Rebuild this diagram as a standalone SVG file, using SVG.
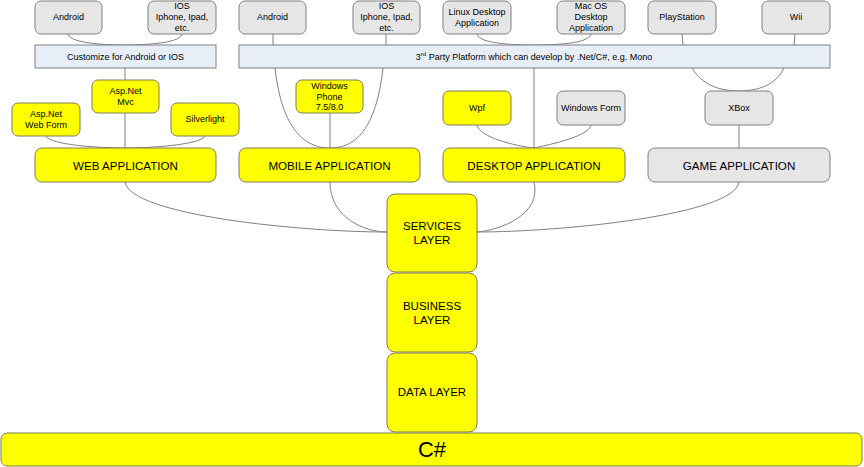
<svg xmlns="http://www.w3.org/2000/svg" width="864" height="467" viewBox="0 0 864 467">
<style>
text{font-family:"Liberation Sans",Arial,sans-serif;fill:#000;text-anchor:middle;dominant-baseline:central}
.s{font-size:9px}
.a{font-size:11.6px}
.l{font-size:11.5px}
.y{fill:#FFFF00;stroke:#7f7f5a;stroke-width:1}
.g{fill:#E6E6E6;stroke:#808080;stroke-width:1}
.b{fill:#E8EEF8;stroke:#808080;stroke-width:1}
.c{fill:none;stroke:#808080;stroke-width:1}
</style>
<rect width="864" height="467" fill="#fff"/>
<g id="connectors">
<path class="c" d="M68,34 C70,44 110,45 125,45"/>
<path class="c" d="M182,34 C180,44 140,45 125,45"/>
<path class="c" d="M125,68 V80"/>
<path class="c" d="M125,113 V148"/>
<path class="c" d="M46,136 C50,145 100,148 125,148"/>
<path class="c" d="M205,136 C200,145 150,148 125,148"/>
<path class="c" d="M273,34 V45"/>
<path class="c" d="M386,34 V45"/>
<path class="c" d="M275,68 C282,130 305,148 330,148"/>
<path class="c" d="M383,68 C376,130 355,148 330,148"/>
<path class="c" d="M330,113 V148"/>
<path class="c" d="M477,34 C479,44 515,45 534,45"/>
<path class="c" d="M591,34 C589,44 553,45 534,45"/>
<path class="c" d="M534,68 V148"/>
<path class="c" d="M477,125 C479,137 515,146 534,148"/>
<path class="c" d="M591,125 C589,136 553,144 534,148"/>
<path class="c" d="M682,34 L683,45"/>
<path class="c" d="M795,34 L794,45"/>
<path class="c" d="M692,68 C702,85 720,91 739,91"/>
<path class="c" d="M784,68 C776,85 758,91 739,91"/>
<path class="c" d="M739,125 V148"/>
<path class="c" d="M125,182 C130,215 300,232 387,232"/>
<path class="c" d="M330,182 C330,218 365,232 387,232"/>
<path class="c" d="M534,182 C542,215 500,230 477,232"/>
<path class="c" d="M739,182 C735,215 560,232 477,232"/>
</g>
<g id="android1"><rect class="g" x="35" y="1" width="67" height="33" rx="6"/><text class="s" x="68.5" y="17">Android</text></g>
<g id="ios1"><rect class="g" x="148" y="1" width="68" height="33" rx="6"/><text class="s" x="182" y="6">IOS</text><text class="s" x="182" y="17">Iphone, Ipad,</text><text class="s" x="182" y="28">etc.</text></g>
<g id="android2"><rect class="g" x="239" y="1" width="67" height="33" rx="6"/><text class="s" x="272.5" y="17">Android</text></g>
<g id="ios2"><rect class="g" x="353" y="1" width="67" height="33" rx="6"/><text class="s" x="386.5" y="6">IOS</text><text class="s" x="386.5" y="17">Iphone, Ipad,</text><text class="s" x="386.5" y="28">etc.</text></g>
<g id="linux"><rect class="g" x="443" y="1" width="68" height="33" rx="6"/><text class="s" x="477" y="12">Linux Desktop</text><text class="s" x="477" y="22.5">Application</text></g>
<g id="macos"><rect class="g" x="557" y="1" width="68" height="33" rx="6"/><text class="s" x="591" y="6">Mac OS</text><text class="s" x="591" y="17">Desktop</text><text class="s" x="591" y="28">Application</text></g>
<g id="playstation"><rect class="g" x="648" y="1" width="68" height="33" rx="6"/><text class="s" x="682" y="17">PlayStation</text></g>
<g id="wii"><rect class="g" x="762" y="1" width="68" height="33" rx="6"/><text class="s" x="796" y="17">Wii</text></g>
<g id="customize"><rect class="b" x="35" y="45" width="181" height="23"/><text class="s" x="125.5" y="56.5">Customize for Android or IOS</text></g>
<g id="thirdparty"><rect class="b" x="239" y="45" width="591" height="23"/><text class="s" x="534" y="56.5">3<tspan font-size="6" dy="-3">rd</tspan><tspan dy="3"> Party Platform which can develop by .Net/C#, e.g. Mono</tspan></text></g>
<g id="mvc"><rect class="y" x="92" y="80" width="67" height="33" rx="6"/><text class="s" x="125.5" y="91">Asp.Net</text><text class="s" x="125.5" y="101.5">Mvc</text></g>
<g id="webform"><rect class="y" x="12" y="103" width="68" height="33" rx="6"/><text class="s" x="46" y="114">Asp.Net</text><text class="s" x="46" y="124.5">Web Form</text></g>
<g id="silverlight"><rect class="y" x="171" y="103" width="68" height="33" rx="6"/><text class="s" x="205" y="119">Silverlight</text></g>
<g id="winphone"><rect class="y" x="296" y="80" width="67" height="33" rx="6"/><text class="s" x="329.5" y="86">Windows</text><text class="s" x="329.5" y="96.5">Phone</text><text class="s" x="329.5" y="107">7.5/8.0</text></g>
<g id="wpf"><rect class="y" x="443" y="91" width="68" height="34" rx="6"/><text class="s" x="477" y="108">Wpf</text></g>
<g id="winform"><rect class="g" x="557" y="91" width="68" height="34" rx="6"/><text class="s" x="591" y="108">Windows Form</text></g>
<g id="xbox"><rect class="g" x="705" y="91" width="68" height="34" rx="6"/><text class="s" x="739" y="108">XBox</text></g>
<g id="webapp"><rect class="y" x="35" y="148" width="181" height="34" rx="7"/><text class="a" x="125.5" y="165">WEB APPLICATION</text></g>
<g id="mobileapp"><rect class="y" x="239" y="148" width="181" height="34" rx="7"/><text class="a" x="329.5" y="165">MOBILE APPLICATION</text></g>
<g id="desktopapp"><rect class="y" x="443" y="148" width="182" height="34" rx="7"/><text class="a" x="534" y="165">DESKTOP APPLICATION</text></g>
<g id="gameapp"><rect class="g" x="648" y="148" width="182" height="34" rx="7"/><text class="a" x="739" y="165">GAME APPLICATION</text></g>
<g id="services"><rect class="y" x="387" y="194" width="90" height="78" rx="8"/><text class="l" x="432" y="226">SERVICES</text><text class="l" x="432" y="240">LAYER</text></g>
<g id="business"><rect class="y" x="387" y="273" width="90" height="79" rx="8"/><text class="l" x="432" y="306">BUSINESS</text><text class="l" x="432" y="320">LAYER</text></g>
<g id="data"><rect class="y" x="387" y="353" width="90" height="79" rx="8"/><text class="l" x="432" y="392">DATA LAYER</text></g>
<g id="csharp"><rect class="y" x="1" y="433" width="861" height="33" rx="6"/><text x="432" y="449.5" font-size="22">C#</text></g>
</svg>
